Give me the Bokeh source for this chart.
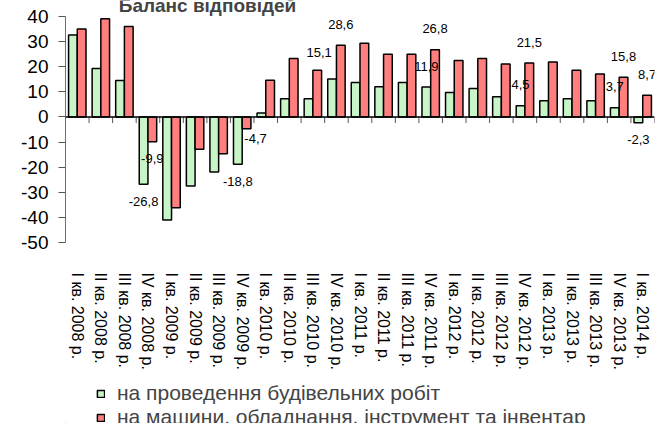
from bokeh.plotting import figure
from bokeh.layouts import column
from bokeh.models import (ColumnDataSource, Range1d, FixedTicker, Legend, LegendItem,
                          Label, Span, FactorRange)
from bokeh.transform import dodge
from bokeh.core.properties import value
from bokeh.embed import file_html
from bokeh.resources import INLINE

categories = [
    "I кв. 2008 р.", "II кв. 2008 р.", "III кв. 2008 р.", "IV кв. 2008 р.",
    "I кв. 2009 р.", "II кв. 2009 р.", "III кв. 2009 р.", "IV кв. 2009 р.",
    "I кв. 2010 р.", "II кв. 2010 р.", "III кв. 2010 р.", "IV кв. 2010 р.",
    "I кв. 2011 р.", "II кв. 2011 р.", "III кв. 2011 р.", "IV кв. 2011 р.",
    "I кв. 2012 р.", "II кв. 2012 р.", "III кв. 2012 р.", "IV кв. 2012 р.",
    "I кв. 2013 р.", "II кв. 2013 р.", "III кв. 2013 р.", "IV кв. 2013 р.",
    "I кв. 2014 р.",
]
construction = [32.7, 19.3, 14.5, -26.8, -41.0, -27.5, -21.9, -18.8, 1.6, 7.3, 7.3, 15.1,
                13.7, 12.0, 13.7, 11.9, 9.8, 11.3, 8.1, 4.5, 6.5, 7.3, 6.5, 3.7, -2.3]
machinery = [35.0, 39.1, 36.0, -9.9, -36.2, -12.9, -14.6, -4.7, 14.6, 23.3, 18.6, 28.6,
             29.4, 25.0, 25.0, 26.8, 22.5, 23.3, 21.1, 21.5, 21.9, 18.6, 17.1, 15.8, 8.7]
labelled = [3, 7, 11, 15, 19, 23, 24]
y_ticks = [-50, -40, -30, -20, -10, 0, 10, 20, 30, 40]
series_names = ["на проведення будівельних робіт",
                "на машини, обладнання, інструмент та інвентар"]
title_text = "Баланс відповідей"

FONT = "Liberation Sans"
GREEN = "#c8f5c8"
RED = "#ff7f7f"
BAR_OFF = 0.185
BAR_W = 0.37

# pixel nudges for individual data labels (series, index) -> (dx, dy)
nudges = {(0, 11): (-13, -27), (1, 7): (9, 10)}

# frame reaches the top edge so the (cut) title can sit inside it;
# the axis itself is bounded to -50..40
p = figure(width=665, height=380, output_backend="svg", toolbar_location=None,
           x_range=FactorRange(*categories), y_range=Range1d(-50, 46.4),
           min_border_left=65, min_border_right=11, min_border_top=0, min_border_bottom=138)
p.outline_line_color = None
p.xgrid.visible = False
p.ygrid.visible = False

src = ColumnDataSource(dict(cat=categories, g=construction, r=machinery))
rg = p.vbar(x=dodge("cat", -BAR_OFF, range=p.x_range), top="g", width=BAR_W, source=src,
            fill_color=GREEN, line_color="black", line_width=1.5)
rr = p.vbar(x=dodge("cat", BAR_OFF, range=p.x_range), top="r", width=BAR_W, source=src,
            fill_color=RED, line_color="black", line_width=1.5)

# zero line with category boundary ticks
p.add_layout(Span(location=0, dimension="width", line_color="black", line_width=1.5))
tick_x = [(c, -0.5) for c in categories] + [(categories[-1], 0.5)]
p.segment(x0=tick_x, y0=[0] * len(tick_x), x1=tick_x, y1=[-2.4] * len(tick_x),
          line_color="#555555", line_width=1)

# data labels
lx, ly, lt, ldx, ldy = [], [], [], [], []
for s, (vals, off) in enumerate([(construction, -BAR_OFF), (machinery, BAR_OFF)]):
    for i in labelled:
        v = vals[i]
        dx, dy = nudges.get((s, i), (0, -21 if v >= 0 else 17))
        lx.append((categories[i], off))
        ly.append(v)
        lt.append(f"{v:.1f}".replace(".", ","))
        ldx.append(dx)
        ldy.append(dy)
lsrc = ColumnDataSource(dict(x=lx, y=ly, t=lt, dx=ldx, dy=ldy))
p.text(x="x", y="y", text="t", x_offset="dx", y_offset="dy", source=lsrc,
       text_align="center", text_baseline="middle", text_font=value(FONT),
       text_font_size="13px", text_color="black")

# title, cut by the top edge as in the original
p.add_layout(Label(x=142, y=237, x_units="screen", y_units="screen", text=title_text,
                   text_font=FONT, text_font_style="bold", text_font_size="19px",
                   text_align="center", text_baseline="alphabetic"))

# axes
p.yaxis.ticker = FixedTicker(ticks=y_ticks)
p.yaxis.bounds = (-50, 40)
p.yaxis.major_label_overrides = {t: str(t) for t in y_ticks}
p.yaxis.major_label_text_font = FONT
p.yaxis.major_label_text_font_size = "19px"
p.yaxis.major_label_text_color = "black"
p.yaxis.axis_line_color = "#707070"
p.yaxis.major_tick_line_color = "#555555"
p.yaxis.major_tick_out = 7
p.yaxis.major_tick_in = 0
p.yaxis.minor_tick_line_color = None
p.yaxis.major_label_standoff = 10

p.xaxis.axis_line_color = None
p.xaxis.major_tick_line_color = None
p.xaxis.minor_tick_line_color = None
p.xaxis.major_label_orientation = "vertical"
p.xaxis.major_label_standoff = 24
p.xaxis.major_label_text_font = FONT
p.xaxis.major_label_text_font_size = "16px"
p.xaxis.major_label_text_color = "black"

# legend strip below the chart
pl = figure(width=665, height=43, output_backend="svg", toolbar_location=None,
            x_range=Range1d(0, 1), y_range=Range1d(0, 1),
            min_border_left=0, min_border_right=0, min_border_top=0, min_border_bottom=0)
pl.axis.visible = False
pl.grid.visible = False
pl.outline_line_color = None
lg = pl.vbar(x=[-5], top=[-5], width=0.1, fill_color=GREEN, line_color="black", line_width=1.5)
lr = pl.vbar(x=[-5], top=[-5], width=0.1, fill_color=RED, line_color="black", line_width=1.5)
legend = Legend(items=[LegendItem(label=series_names[0], renderers=[lg]),
                       LegendItem(label=series_names[1], renderers=[lr])],
                location=(31, -6), orientation="vertical", padding=0, margin=0, spacing=-5,
                glyph_width=9, glyph_height=9, label_standoff=12, label_height=20,
                label_text_font=FONT, label_text_font_size="21px",
                border_line_alpha=0, background_fill_alpha=0)
pl.add_layout(legend, "center")

layout = column(p, pl, spacing=0)
open("out.html", "w").write(file_html(layout, INLINE))
